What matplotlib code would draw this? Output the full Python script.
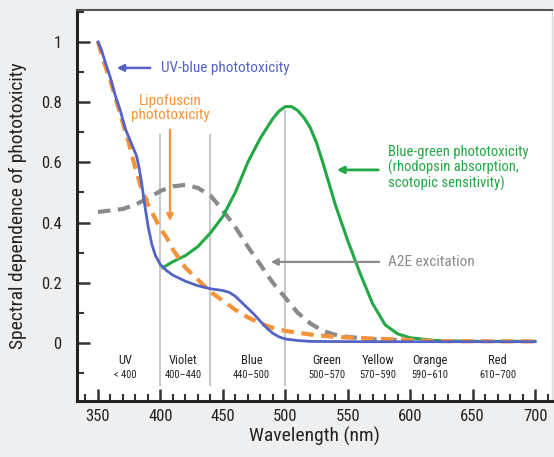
import matplotlib
matplotlib.use("Agg")
import matplotlib.pyplot as plt
from matplotlib.ticker import MultipleLocator

# ---- data ----
uv_wl = [350, 353, 356, 360, 364, 368, 372, 376, 379, 381, 383, 385, 387, 390, 393, 396, 400,
         405, 410, 420, 430, 440, 450, 455, 460, 465, 470, 475, 480, 485, 490, 495, 500,
         510, 520, 560, 620, 700]
uv_val = [1.0, 0.97, 0.93, 0.88, 0.82, 0.77, 0.71, 0.67, 0.64, 0.62, 0.58, 0.53, 0.47, 0.39,
          0.33, 0.29, 0.26, 0.24, 0.225, 0.205, 0.19, 0.18, 0.174, 0.168, 0.155, 0.135, 0.115,
          0.095, 0.072, 0.05, 0.032, 0.02, 0.013, 0.008, 0.005, 0.004, 0.004, 0.004]

lipo_wl = [350, 355, 360, 365, 370, 375, 380, 385, 390, 395, 400, 405, 410, 415, 420, 430,
           440, 450, 460, 470, 480, 490, 500, 520, 540, 560, 580, 600, 620, 700]
lipo_val = [1.0, 0.93, 0.87, 0.80, 0.73, 0.66, 0.58, 0.51, 0.46, 0.42, 0.38, 0.35, 0.31, 0.28,
            0.25, 0.21, 0.17, 0.14, 0.11, 0.085, 0.065, 0.05, 0.04, 0.028, 0.02, 0.016, 0.013,
            0.01, 0.006, 0.005]

a2e_wl = [350, 360, 370, 380, 390, 400, 410, 420, 430, 440, 450, 460, 470, 480, 490, 500,
          510, 520, 530, 540, 550, 570, 600]
a2e_val = [0.435, 0.44, 0.445, 0.46, 0.48, 0.505, 0.52, 0.525, 0.515, 0.49, 0.44, 0.385, 0.32,
           0.26, 0.20, 0.15, 0.10, 0.065, 0.04, 0.027, 0.02, 0.012, 0.008]

rho_wl = [402, 410, 420, 430, 440, 450, 460, 470, 480, 490, 495, 500, 505, 510, 515, 520, 525,
          530, 540, 550, 560, 570, 580, 590, 600, 620, 650, 700]
rho_val = [0.25, 0.27, 0.29, 0.32, 0.365, 0.42, 0.50, 0.60, 0.68, 0.745, 0.77, 0.785, 0.785,
           0.772, 0.748, 0.715, 0.665, 0.60, 0.46, 0.34, 0.23, 0.13, 0.06, 0.03, 0.017, 0.008,
           0.005, 0.005]

band_names = ["UV", "Violet", "Blue", "Green", "Yellow", "Orange", "Red"]
band_ranges = ["< 400", "400\u2013440", "440\u2013500", "500\u2013570", "570\u2013590",
               "590\u2013610", "610\u2013700"]
band_centers = [372, 418, 473, 533, 574, 616, 670]
band_edges = [400, 440, 500]
band_edge_tops = [0.69, 0.69, 0.77]

x_ticks = [350, 400, 450, 500, 550, 600, 650, 700]
y_ticks = [0, 0.2, 0.4, 0.6, 0.8, 1.0]
y_ticklabels = ["0", "0.2", "0.4", "0.6", "0.8", "1"]

# ---- style ----
BLUE = "#5563c4"
ORANGE = "#f6923a"
GRAY = "#8a8a8a"
GREEN = "#22a845"
TXT = "#222222"
NARROW = ["Roboto Condensed", "PT Sans Narrow", "DejaVu Sans"]

fig = plt.figure(figsize=(5.54, 4.57), dpi=100, facecolor="#eeeff0")
ax = fig.add_axes([77/554, 1-401/457, (552-77)/554, (401-10)/457])
ax.set_facecolor("white")
ax.set_xlim(333.2, 713.6)
ax.set_ylim(-0.193, 1.106)

for e, t in zip(band_edges, band_edge_tops):
    ax.plot([e, e], [t, -0.14], color="#c9c9c9", lw=1.5, zorder=1)

ax.plot(a2e_wl, a2e_val, color=GRAY, lw=3, dashes=(3, 1.8), zorder=2, solid_capstyle="butt")
ax.plot(rho_wl, rho_val, color=GREEN, lw=2.2, zorder=3)
ax.plot(lipo_wl, lipo_val, color=ORANGE, lw=3, dashes=(3, 1.8), zorder=4)
ax.plot(uv_wl, uv_val, color=BLUE, lw=2.0, zorder=5)

for c, n, r in zip(band_centers, band_names, band_ranges):
    ax.text(c, -0.058, n, ha="center", va="center", fontsize=9, color=TXT, family=NARROW)
    ax.text(c, -0.108, r, ha="center", va="center", fontsize=7.5, color=TXT, family=NARROW)

# annotations
def px2x(px):
    return 350 + (px - 98) / 1.2486

def px2y(py):
    return (343 - py) / 301.0

ax.annotate("", xy=(px2x(114), px2y(68)), xytext=(px2x(153), px2y(68)),
            arrowprops=dict(arrowstyle="-|>", color=BLUE, lw=1.8, mutation_scale=10))
ax.text(px2x(161), px2y(68), "UV-blue phototoxicity", color=BLUE, fontsize=11,
        family=NARROW, va="center", ha="left")

ax.text(px2x(170), px2y(108), "Lipofuscin\nphototoxicity", color=ORANGE, fontsize=11,
        family=NARROW, va="center", ha="center", linespacing=1.0)
ax.annotate("", xy=(px2x(170), px2y(224)), xytext=(px2x(170), px2y(127)),
            arrowprops=dict(arrowstyle="-|>", color=ORANGE, lw=1.6, mutation_scale=10))

ax.text(px2x(388), px2y(168), "Blue-green phototoxicity\n(rhodopsin absorption,\nscotopic sensitivity)",
        color=GREEN, fontsize=10.5, family=NARROW, va="center", ha="left", linespacing=1.05)
ax.annotate("", xy=(px2x(334), px2y(170)), xytext=(px2x(381), px2y(170)),
            arrowprops=dict(arrowstyle="-|>", color=GREEN, lw=2.0, mutation_scale=10))

ax.text(px2x(388), px2y(262), "A2E excitation", color=GRAY, fontsize=11,
        family=NARROW, va="center", ha="left")
ax.annotate("", xy=(px2x(268), px2y(262)), xytext=(px2x(382), px2y(262)),
            arrowprops=dict(arrowstyle="-|>", color=GRAY, lw=1.6, mutation_scale=10))

# axes
ax.set_xticks(x_ticks)
ax.xaxis.set_minor_locator(MultipleLocator(10))
ax.set_yticks(y_ticks)
ax.set_yticklabels(y_ticklabels)
ax.yaxis.set_minor_locator(MultipleLocator(0.1))
ax.tick_params(axis="both", which="major", direction="in", length=9, width=1.8, color="#333333",
               labelsize=12, labelcolor=TXT, pad=6)
ax.tick_params(axis="both", which="minor", direction="in", length=5, width=1.5, color="#333333")
ax.tick_params(axis="y", which="major", pad=11)
ax.tick_params(top=False, right=False, which="both")
for lab in ax.get_xticklabels() + ax.get_yticklabels():
    lab.set_family(NARROW)

ax.spines["left"].set_linewidth(2.2)
ax.spines["bottom"].set_linewidth(2.2)
ax.spines["left"].set_color("#222222")
ax.spines["bottom"].set_color("#222222")
ax.spines["top"].set_color("#555555")
ax.spines["top"].set_linewidth(1.5)
ax.spines["right"].set_color("#dddddd")
ax.spines["right"].set_linewidth(1.0)

ax.set_xlabel("Wavelength (nm)", fontsize=14, color=TXT, family=NARROW, labelpad=2)
ax.set_ylabel("Spectral dependence of phototoxicity", fontsize=14, color=TXT,
              family=NARROW, labelpad=10)

fig.savefig("out.png", dpi=100, facecolor=fig.get_facecolor())
